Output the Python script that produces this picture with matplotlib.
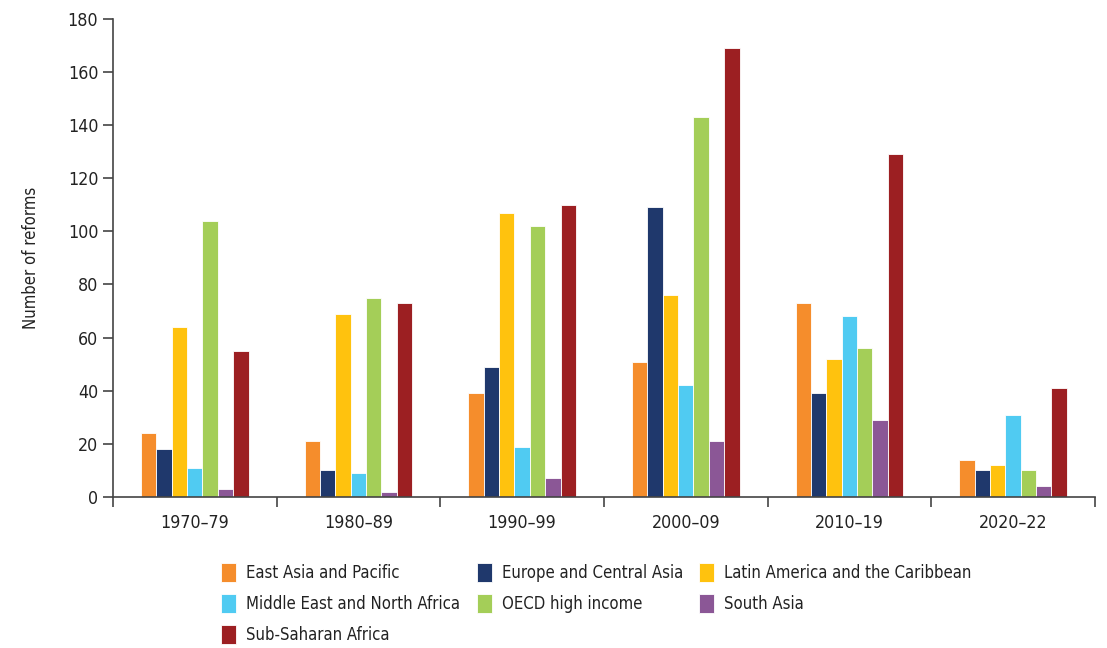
import matplotlib

matplotlib.use("Agg")
import matplotlib.pyplot as plt
import numpy as np

plt.rcParams["font.family"] = ["DejaVu Sans"]
plt.rcParams["font.stretch"] = "condensed"

# Decades on the x axis.
periods = ["1970\u201379", "1980\u201389", "1990\u201399", "2000\u201309", "2010\u201319", "2020\u201322"]

# Number of reforms per region, one value per period.
east_asia_pacific = [24, 21, 39, 51, 73, 14]
europe_central_asia = [18, 10, 49, 109, 39, 10]
latin_america_caribbean = [64, 69, 107, 76, 52, 12]
middle_east_north_africa = [11, 9, 19, 42, 68, 31]
oecd_high_income = [104, 75, 102, 143, 56, 10]
south_asia = [3, 2, 7, 21, 29, 4]
sub_saharan_africa = [55, 73, 110, 169, 129, 41]

regions = [
    ("East Asia and Pacific", east_asia_pacific, "#F58D2C"),
    ("Europe and Central Asia", europe_central_asia, "#1F386C"),
    ("Latin America and the Caribbean", latin_america_caribbean, "#FFC20E"),
    ("Middle East and North Africa", middle_east_north_africa, "#50CBF2"),
    ("OECD high income", oecd_high_income, "#A4CE58"),
    ("South Asia", south_asia, "#8B5796"),
    ("Sub-Saharan Africa", sub_saharan_africa, "#9C1F22"),
]

FS = 12
TICK_FS = 12.8

fig = plt.figure(figsize=(11.07, 6.48), dpi=100)
ax = fig.add_axes([0.102, 0.233, 0.887, 0.738])

x = np.arange(len(periods))
n = len(regions)
width = 0.094
handles = {}
for i, (name, vals, color) in enumerate(regions):
    offs = (i - (n - 1) / 2) * width
    bars = ax.bar(x + offs, vals, width, color=color, edgecolor="white",
                  linewidth=0.6, label=name, zorder=2)
    handles[name] = bars

ax.set_xlim(-0.5, len(periods) - 0.5)
ax.set_ylim(0, 180)
ax.set_yticks(np.arange(0, 181, 20))
ax.set_xticks(np.arange(-0.5, len(periods), 1.0))
ax.set_xticklabels([])
ax.set_xticks(x, minor=True)
ax.set_xticklabels(periods, minor=True)
ax.tick_params(axis="x", which="minor", length=0, pad=12, labelsize=TICK_FS, colors="#222222")
ax.tick_params(axis="x", which="major", direction="out", length=7, width=1.2, color="#444444")
ax.tick_params(axis="y", direction="out", length=7, width=1.2, color="#444444",
               labelsize=TICK_FS, labelcolor="#222222")

for side in ("top", "right"):
    ax.spines[side].set_visible(False)
for side in ("left", "bottom"):
    ax.spines[side].set_color("#444444")
    ax.spines[side].set_linewidth(1.2)

ax.set_ylabel("Number of reforms", fontsize=FS, color="#222222", labelpad=20)

# matplotlib fills legend columns first, so reorder to read row by row
order = [0, 3, 6, 1, 4, 2, 5]
leg_h = [handles[regions[i][0]] for i in order]
leg_l = [regions[i][0] for i in order]
fig.legend(leg_h, leg_l, loc="upper left", bbox_to_anchor=(0.186, 0.154), ncol=3,
           frameon=False, fontsize=FS, handlelength=0.9, handleheight=1.4,
           handletextpad=0.6, columnspacing=1.0, labelspacing=0.7,
           labelcolor="#222222")

fig.savefig("out.png", dpi=100)
plt.close(fig)
